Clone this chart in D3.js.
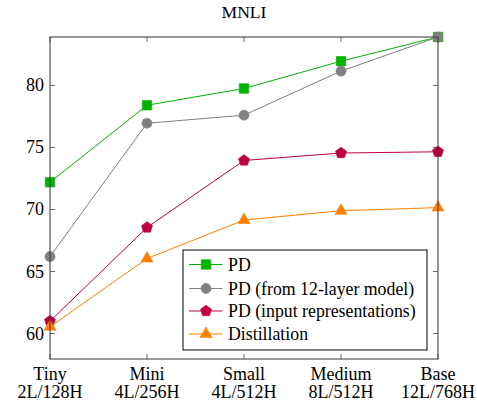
<!DOCTYPE html>
<html><head><meta charset="utf-8">
<script src="https://cdn.jsdelivr.net/npm/d3@7/dist/d3.min.js"></script>
<style>body{margin:0;background:#fff}svg{display:block}</style>
</head><body><svg id="c" width="477" height="404"></svg>
<script>
const categories = ["Tiny", "Mini", "Small", "Medium", "Base"];
const subLabels = ["2L/128H", "4L/256H", "4L/512H", "8L/512H", "12L/768H"];
const pd = [72.2, 78.4, 79.75, 81.95, 83.9];
const pdFrom12 = [66.2, 76.95, 77.6, 81.15, 83.9];
const pdInput = [61.0, 68.55, 73.95, 74.55, 74.65];
const distillation = [60.55, 66.05, 69.15, 69.9, 70.15];
const yTicks = [60, 65, 70, 75, 80];
const seriesNames = ["PD", "PD (from 12-layer model)", "PD (input representations)", "Distillation"];

const series = [
  {name: seriesNames[0], values: pd, color: "#00b300", shape: "square"},
  {name: seriesNames[1], values: pdFrom12, color: "#808080", shape: "circle"},
  {name: seriesNames[2], values: pdInput, color: "#bf0040", shape: "pentagon"},
  {name: seriesNames[3], values: distillation, color: "#ff8000", shape: "triangle"}
];

const FONT = "Liberation Serif";
const svg = d3.select("#c");
const L = 50, R = 438, T = 37, B = 359;
const x = d3.scalePoint().domain(categories).range([L, R]);
const y = d3.scaleLinear().domain([57.95, 83.9]).range([B, T]);

function txt(parent, xx, yy, s, anchor, fs) {
  return parent.append("text").attr("x", xx).attr("y", yy).attr("text-anchor", anchor || "start")
    .attr("font-family", FONT).attr("font-size", fs || 18).attr("fill", "#000").text(s);
}

txt(svg, (L + R) / 2, 18, "MNLI", "middle", 17.6);

const g = svg.append("g");
const tl = 5;
yTicks.forEach(t => {
  g.append("line").attr("x1", L).attr("x2", L + tl).attr("y1", y(t)).attr("y2", y(t)).attr("stroke", "#666");
  g.append("line").attr("x1", R).attr("x2", R - tl).attr("y1", y(t)).attr("y2", y(t)).attr("stroke", "#666");
  txt(g, L - 6, y(t) + 6, t, "end");
});
categories.forEach((c, i) => {
  g.append("line").attr("x1", x(c)).attr("x2", x(c)).attr("y1", B).attr("y2", B - tl).attr("stroke", "#666");
  g.append("line").attr("x1", x(c)).attr("x2", x(c)).attr("y1", T).attr("y2", T + tl).attr("stroke", "#666");
  txt(g, x(c), 379.5, c, "middle");
  txt(g, x(c), 398, subLabels[i], "middle");
});

function pentagonPath(r) {
  const pts = [];
  for (let k = 0; k < 5; k++) {
    const a = -Math.PI / 2 + k * 2 * Math.PI / 5;
    pts.push([r * Math.cos(a), r * Math.sin(a)]);
  }
  return "M" + pts.map(p => p.join(",")).join("L") + "Z";
}
function marker(sel, shape, color) {
  if (shape === "pentagon") sel.attr("d", pentagonPath(5.8));
  else if (shape === "triangle") sel.attr("d", d3.symbol().type(d3.symbolTriangle).size(62)());
  else if (shape === "square") sel.attr("d", d3.symbol().type(d3.symbolSquare).size(90)());
  else sel.attr("d", d3.symbol().type(d3.symbolCircle).size(80)());
  sel.attr("fill", color).attr("stroke", color).attr("stroke-width", 0.6);
}

const line = d3.line().x((d, i) => x(categories[i])).y(d => y(d));
series.forEach(s => {
  svg.append("path").attr("d", line(s.values)).attr("fill", "none").attr("stroke", s.color).attr("stroke-width", 1);
  s.values.forEach((v, i) => {
    const p = svg.append("path").attr("transform", `translate(${x(categories[i])},${y(v)})`);
    marker(p, s.shape, s.color);
  });
});

svg.append("rect").attr("x", L).attr("y", T).attr("width", R - L).attr("height", B - T)
  .attr("fill", "none").attr("stroke", "#333").attr("stroke-width", 1);

const lg = svg.append("g");
lg.append("rect").attr("x", 183).attr("y", 250).attr("width", 244).attr("height", 100)
  .attr("fill", "#fff").attr("stroke", "#000").attr("stroke-width", 1);
const ly = [264.5, 288.5, 311, 334];
series.forEach((s, i) => {
  lg.append("line").attr("x1", 189).attr("x2", 222.5).attr("y1", ly[i]).attr("y2", ly[i]).attr("stroke", s.color);
  const p = lg.append("path").attr("transform", `translate(206,${ly[i]})`);
  marker(p, s.shape, s.color);
  txt(lg, 228, ly[i] + 6, s.name, "start", 17.8);
});
</script></body></html>
